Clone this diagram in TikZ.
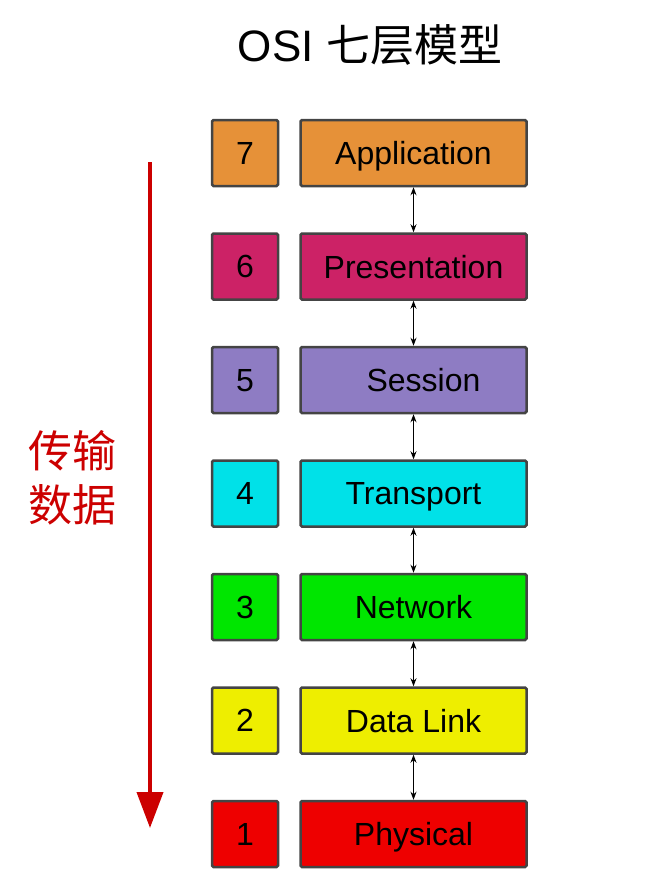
\documentclass[tikz,border=0pt]{standalone}
\usepackage{fontspec}
\setmainfont{Liberation Sans}
\newfontfamily\cjk{Noto Sans CJK SC}
\usetikzlibrary{positioning,arrows.meta}
\definecolor{appcol}{HTML}{E69138}
\definecolor{precol}{HTML}{CC2266}
\definecolor{sescol}{HTML}{8E7CC3}
\definecolor{tracol}{HTML}{00E1E8}
\definecolor{netcol}{HTML}{00E600}
\definecolor{dlkcol}{HTML}{EEEE00}
\definecolor{phycol}{HTML}{EE0000}
\definecolor{edgecol}{HTML}{444444}
\definecolor{arrcol}{HTML}{CC0000}
\begin{document}
\begin{tikzpicture}
[
x = 1pt, y = -1pt,
    num/.style = {rectangle, draw = edgecol, line width = 2.5pt, rounded corners = 1.5pt, minimum width = 66pt, minimum height = 66pt, inner sep = 0pt, text depth = 0pt, font = \fontsize{32}{34}\selectfont},
    layer/.style = {rectangle, draw = edgecol, line width = 2.5pt, rounded corners = 1.5pt, minimum width = 226pt, minimum height = 66pt, inner sep = 0pt, text depth = 0pt, font = \fontsize{32}{34}\selectfont},
    link/.style = {{Stealth[length = 8pt, width = 6pt]}-{Stealth[length = 8pt, width = 6pt]}, line width = 0.9pt, black},
    node distance = 45pt and 20pt
]
    \useasboundingbox (0,0) rectangle (647,891);
    \node[font = \fontsize{44}{48}\selectfont] (title) at (370,45) {OSI {\cjk 七层模型}};

    \node[num, fill = appcol] (n7) at (245,153) {7};
    \node[num, fill = precol, below = of n7] (n6) {6};
    \node[num, fill = sescol, below = of n6] (n5) {5};
    \node[num, fill = tracol, below = of n5] (n4) {4};
    \node[num, fill = netcol, below = of n4] (n3) {3};
    \node[num, fill = dlkcol, below = of n3] (n2) {2};
    \node[num, fill = phycol, below = of n2] (n1) {1};

    \node[layer, fill = appcol, right = of n7] (app) {Application};
    \node[layer, fill = precol, right = of n6] (pre) {Presentation};
    \node[layer, fill = sescol, right = of n5] (ses) {\hspace{20pt}Session};
    \node[layer, fill = tracol, right = of n4] (tra) {Transport};
    \node[layer, fill = netcol, right = of n3] (net) {Network};
    \node[layer, fill = dlkcol, right = of n2] (dlk) {Data Link};
    \node[layer, fill = phycol, right = of n1] (phy) {Physical};

    \draw[link] (app) -- (pre);
    \draw[link] (pre) -- (ses);
    \draw[link] (ses) -- (tra);
    \draw[link] (tra) -- (net);
    \draw[link] (net) -- (dlk);
    \draw[link] (dlk) -- (phy);

    \coordinate (top) at (150,162);
    \coordinate (bot) at (150,828);
    \draw[arrcol, line width = 4pt, -{Triangle[length = 36pt, width = 26pt]}] (top) -- (bot);
    \node[text = arrcol, font = \cjk\fontsize{44}{54}\selectfont, align = center] (data) at (72,478) {传输\\数据};
\end{tikzpicture}
\end{document}
